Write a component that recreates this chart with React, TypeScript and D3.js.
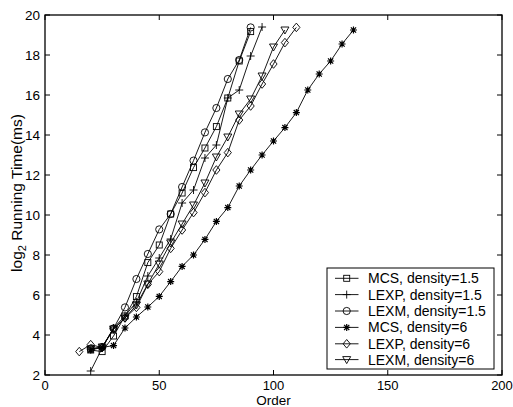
import React from "react";
import * as d3 from "d3";

const xTicks = [0, 50, 100, 150, 200];
const yTicks = [2, 4, 6, 8, 10, 12, 14, 16, 18, 20];

const ordersMCS15 = [20, 25, 30, 35, 40, 45, 50, 55, 60, 65, 70, 75, 80, 85, 90];
const timeMCS15 = [3.25, 3.17, 3.95, 4.95, 5.92, 7.62, 8.5, 10.05, 11.1, 12.37, 13.35, 14.42, 15.85, 17.7, 19.17];

const ordersLEXP15 = [20, 25, 30, 35, 40, 45, 50, 55, 60, 65, 70, 75, 80, 85, 90, 95];
const timeLEXP15 = [2.2, 3.35, 4.35, 4.95, 5.65, 6.95, 7.85, 8.8, 10.6, 11.25, 12.85, 13.5, 15.85, 16.25, 17.95, 19.4];

const ordersLEXM15 = [20, 25, 30, 35, 40, 45, 50, 55, 60, 65, 70, 75, 80, 85, 90];
const timeLEXM15 = [3.3, 3.4, 4.33, 5.38, 6.8, 8.05, 9.28, 10.05, 11.4, 12.72, 14.13, 15.35, 16.8, 17.75, 19.38];

const ordersMCS6 = [20, 25, 30, 35, 40, 45, 50, 55, 60, 65, 70, 75, 80, 85, 90, 95, 100, 105, 110, 115, 120, 125, 130, 135];
const timeMCS6 = [3.25, 3.38, 3.47, 4.35, 4.9, 5.4, 5.93, 6.67, 7.43, 8.0, 8.78, 9.68, 10.37, 11.45, 12.25, 13.0, 13.7, 14.37, 15.12, 16.25, 17.05, 17.7, 18.55, 19.25];

const ordersLEXP6 = [15, 20, 25, 30, 35, 40, 45, 50, 55, 60, 65, 70, 75, 80, 85, 90, 95, 100, 105, 110];
const timeLEXP6 = [3.17, 3.52, 3.37, 4.3, 4.85, 5.38, 6.53, 7.17, 8.33, 9.25, 10.12, 11.12, 12.25, 13.12, 14.75, 15.45, 16.55, 17.55, 18.62, 19.38];

const ordersLEXM6 = [20, 25, 30, 35, 40, 45, 50, 55, 60, 65, 70, 75, 80, 85, 90, 95, 100, 105];
const timeLEXM6 = [3.3, 3.4, 4.3, 4.85, 5.5, 6.55, 7.55, 8.6, 9.55, 10.5, 11.6, 12.9, 13.9, 15.05, 15.8, 16.95, 18.4, 19.25];

const seriesNames = [
  "MCS, density=1.5",
  "LEXP, density=1.5",
  "LEXM, density=1.5",
  "MCS, density=6",
  "LEXP, density=6",
  "LEXM, density=6",
];
const seriesMarkers = ["square", "plus", "circle", "star", "diamond", "triangle"];
const seriesOrders = [ordersMCS15, ordersLEXP15, ordersLEXM15, ordersMCS6, ordersLEXP6, ordersLEXM6];
const seriesTimes = [timeMCS15, timeLEXP15, timeLEXM15, timeMCS6, timeLEXP6, timeLEXM6];

const W = 513;
const H = 407;
const M = { left: 45, right: 502, top: 15, bottom: 375 };
const FONT = "'Liberation Sans', Arial, Helvetica, sans-serif";

function Marker({ type, x, y }: { type: string; x: number; y: number }) {
  const s = { fill: "none", stroke: "#000", strokeWidth: 0.9 };
  if (type === "square") return <rect x={x - 3} y={y - 3} width={6} height={6} {...s} />;
  if (type === "circle") return <circle cx={x} cy={y} r={3.6} {...s} />;
  if (type === "plus")
    return <path d={`M${x - 4},${y}H${x + 4}M${x},${y - 4}V${y + 4}`} {...s} />;
  if (type === "star")
    return (
      <path
        d={`M${x - 3.5},${y}H${x + 3.5}M${x},${y - 3.5}V${y + 3.5}M${x - 2.6},${y - 2.6}L${x + 2.6},${y + 2.6}M${x - 2.6},${y + 2.6}L${x + 2.6},${y - 2.6}`}
        fill="none"
        stroke="#000"
        strokeWidth={1.2}
      />
    );
  if (type === "diamond")
    return <path d={`M${x},${y - 4.3}L${x + 3.6},${y}L${x},${y + 4.3}L${x - 3.6},${y}Z`} {...s} />;
  return <path d={`M${x - 4},${y - 3}L${x + 4},${y - 3}L${x},${y + 4}Z`} {...s} />;
}

export default function App() {
  const x = d3.scaleLinear().domain([0, 200]).range([M.left, M.right]);
  const y = d3.scaleLinear().domain([2, 20]).range([M.bottom, M.top]);
  const line = d3
    .line<[number, number]>()
    .x((d) => x(d[0]))
    .y((d) => y(d[1]));

  const legX = 327;
  const legY = 268;
  const legW = 167;
  const legH = 101;
  const rowY = [278.3, 294.6, 311, 327.4, 343.8, 359.6];

  return (
    <svg
      width={W}
      height={H}
      style={{ position: "absolute", left: 0, top: 0, background: "#fff" }}
      fontFamily={FONT}
    >
      <rect x={0} y={0} width={W} height={H} fill="#fff" />
      {seriesNames.map((name, i) => {
        const pts: [number, number][] = seriesOrders[i].map((o, j) => [o, seriesTimes[i][j]]);
        return (
          <g key={name}>
            <path d={line(pts) || ""} fill="none" stroke="#000" strokeWidth={0.9} />
            {pts.map((p, j) => (
              <Marker key={j} type={seriesMarkers[i]} x={x(p[0])} y={y(p[1])} />
            ))}
          </g>
        );
      })}
      <rect
        x={M.left}
        y={M.top}
        width={M.right - M.left}
        height={M.bottom - M.top}
        fill="none"
        stroke="#000"
        strokeWidth={1.3}
      />
      {xTicks.map((t) => (
        <g key={"x" + t}>
          <line x1={x(t)} x2={x(t)} y1={M.bottom} y2={M.bottom - 5} stroke="#000" strokeWidth={1} />
          <line x1={x(t)} x2={x(t)} y1={M.top} y2={M.top + 5} stroke="#000" strokeWidth={1} />
          <text x={x(t)} y={390} textAnchor="middle" fontSize={13}>
            {t}
          </text>
        </g>
      ))}
      {yTicks.map((t) => (
        <g key={"y" + t}>
          <line x1={M.left} x2={M.left + 5} y1={y(t)} y2={y(t)} stroke="#000" strokeWidth={1} />
          <line x1={M.right} x2={M.right - 5} y1={y(t)} y2={y(t)} stroke="#000" strokeWidth={1} />
          <text x={40} y={y(t) + 5} textAnchor="end" fontSize={13.5}>
            {t}
          </text>
        </g>
      ))}
      <text x={(M.left + M.right) / 2} y={404.5} textAnchor="middle" fontSize={13.5}>
        Order
      </text>
      <text transform={`translate(22,${193}) rotate(-90)`} textAnchor="middle" fontSize={15.5}>
        log
        <tspan fontSize={11} dy={4}>
          2
        </tspan>
        <tspan dy={-4}> Running Time(ms)</tspan>
      </text>
      <rect x={legX} y={legY} width={legW} height={legH} fill="#fff" stroke="#000" strokeWidth={1} />
      {seriesNames.map((name, i) => (
        <g key={"l" + name}>
          <line x1={335} x2={358.5} y1={rowY[i]} y2={rowY[i]} stroke="#000" strokeWidth={0.9} />
          <Marker type={seriesMarkers[i]} x={346.7} y={rowY[i]} />
          <text x={368} y={rowY[i] + 5} fontSize={14}>
            {name}
          </text>
        </g>
      ))}
    </svg>
  );
}
